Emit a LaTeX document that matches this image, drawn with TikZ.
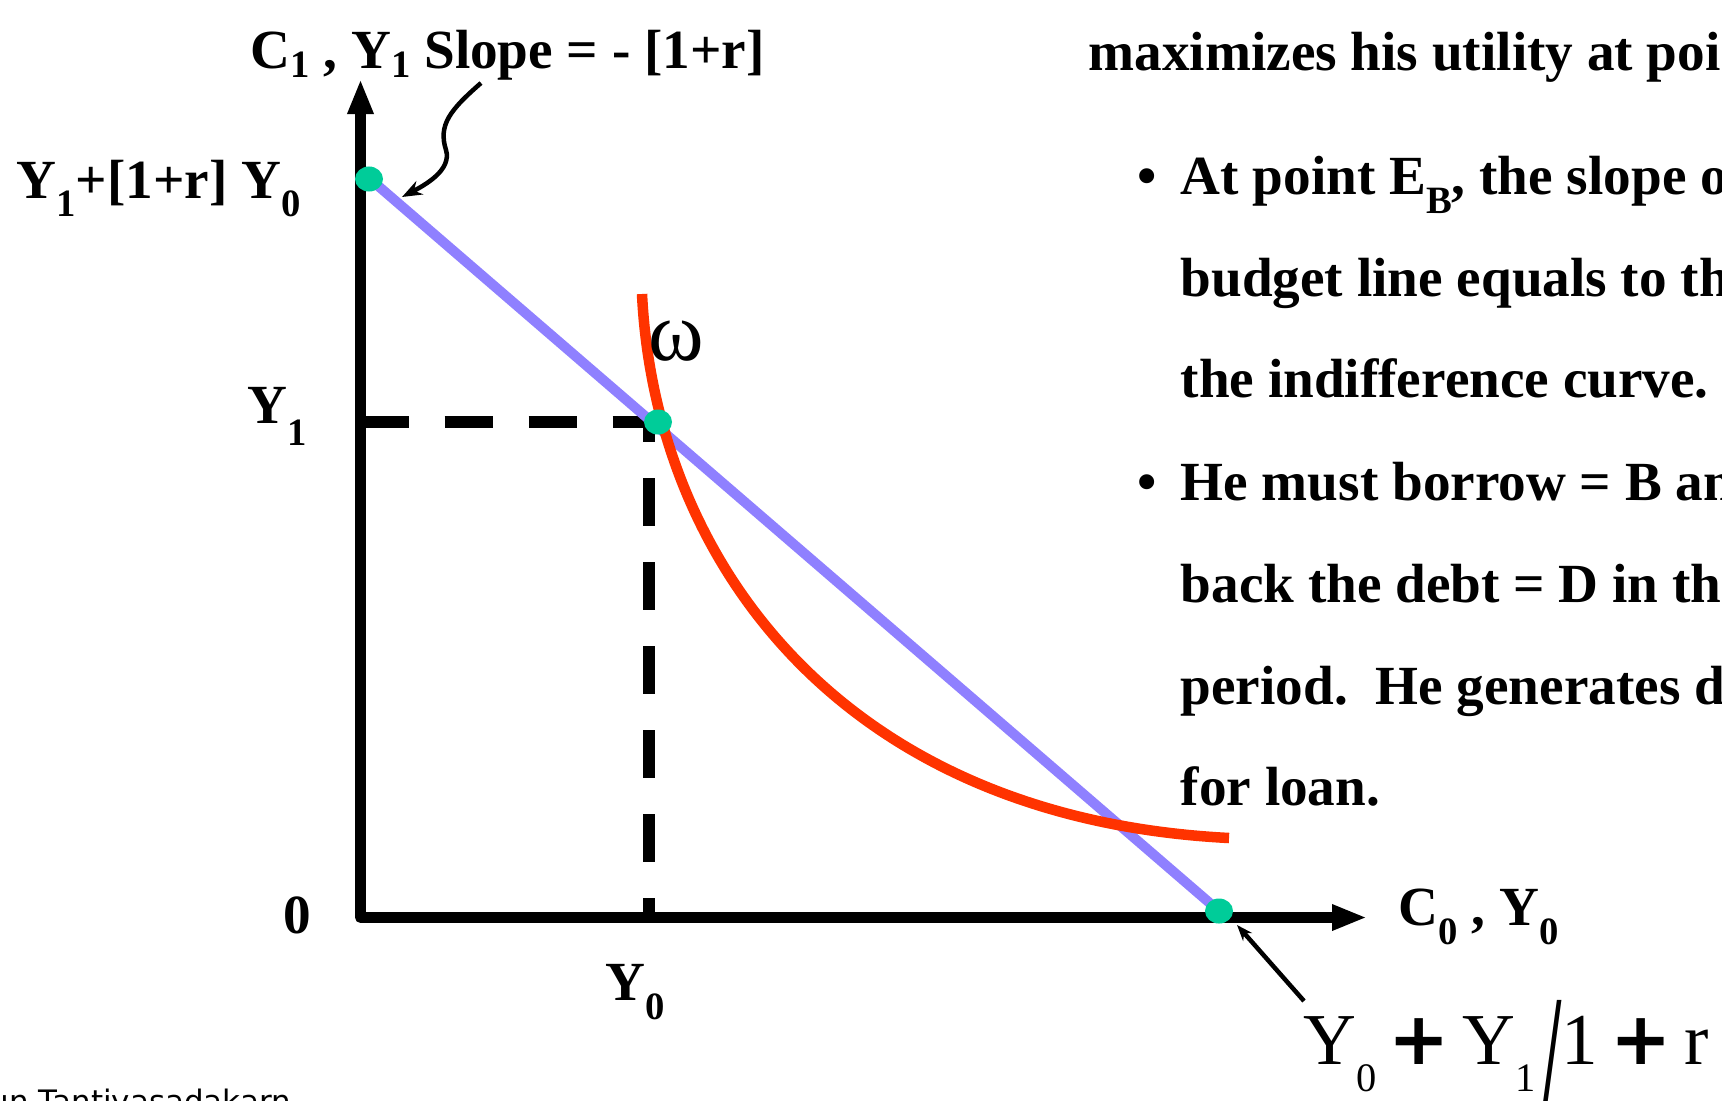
\documentclass[tikz,border=0pt]{standalone}
\usepackage{fontspec}
\setmainfont{Liberation Serif}
\newfontfamily\footfont{DejaVu Sans}
\newfontfamily\plusfont{DejaVu Sans}
\usetikzlibrary{arrows.meta,shapes.geometric}
\definecolor{budB}{RGB}{143,128,255}
\definecolor{icR}{RGB}{255,51,0}
\definecolor{ptG}{RGB}{0,204,153}
\newcommand{\lo}[2][0.36em]{\raisebox{-#1}{\fontsize{11pt}{12pt}\selectfont #2}}
\newcommand{\flo}[1]{\raisebox{-0.27cm}{\fontsize{11.5pt}{12pt}\selectfont #1}}
\newcommand{\bplus}{{\plusfont\bfseries +}}
\tikzset{
  lab/.style={font=\fontsize{15.7pt}{18pt}\selectfont\bfseries, inner sep=0pt, anchor=base west},
  pt/.style={ellipse, fill=ptG, minimum width=0.28cm, minimum height=0.25cm, inner sep=0pt},
  note/.style={line width=0.045cm, -{Stealth[length=0.2cm,width=0.15cm]}},
  guide/.style={line width=0.12cm, dash pattern=on 0.48cm off 0.36cm},
}
\begin{document}
\begin{tikzpicture}[x=0.01cm,y=-0.01cm,>={Triangle[length=0.35cm,width=0.24cm]}]
\useasboundingbox (0,0) rectangle (1722,1100);
% axes
\coordinate (ytop) at (360.5,79);
\coordinate (orig) at (360.5,917.5);
\coordinate (xend) at (1367,917.5);
\draw[<->,line width=0.11cm,line join=round] (ytop) -- (orig) -- (xend);
% points on the budget line
\coordinate (pA) at (369,179);
\coordinate (pW) at (658,422);
\coordinate (pB) at (1219,911);
\coordinate (bstart) at (362,172);
% endowment guides
\draw[guide] (orig |- pW) -- (pW);
\draw[guide,dash phase=0.3cm] (648.5,424) -- (648.5,917.5);
\draw[budB,line width=0.1cm] (bstart) -- (pB);
\draw[icR,line width=0.105cm] (642,294) .. controls (655,560) and (840,818) .. (1229,838);
\node[pt] (Etop) at (pA) {};
\node[pt] (Ew) at (pW) {};
\node[pt] (Ebot) at (pB) {};
% axis labels
\node[lab] (ylab) at (250,68) {C\lo[0.17em]{1} , Y\lo[0.17em]{1} Slope = - [1+r]};
\node[lab] (yint) at (16,198) {Y\lo[0.33em]{1}+[1+r] Y\lo[0.33em]{0}};
\node[lab] (yone) at (247,423) {Y\lo[0.4em]{1}};
\node[lab,anchor=base] (zero) at (297,933) {0};
\node[lab] (yzero) at (605,1000) {Y\lo{0}};
\node[lab] (xlab) at (1398,925) {C\lo{0} , Y\lo{0}};
\node[inner sep=0pt,anchor=base west,font=\fontsize{24pt}{26pt}\selectfont] (omega) at (648,360) {ω};
\node[anchor=base west,inner sep=0pt,font=\fontsize{20.8pt}{24pt}\selectfont] (xint) at (1303,1064)
  {Y\flo{0}\,\bplus\,Y\flo{1}\raisebox{-0.95cm}{\scalebox{1.3}[3.3]{/}}1\,\bplus\,r};
% arrows to the intercepts
\coordinate (slopefrom) at (481,83);
\coordinate (slopetip) at (402,197);
\draw[note] (slopefrom) .. controls (450,110) and (438,125) .. (446,150) .. controls (452,170) and (425,185) .. (slopetip);
\coordinate (xintfrom) at (1304,1001);
\coordinate (xinttip) at (1237,925);
\draw[note,-{Stealth[length=0.16cm,width=0.12cm]}] (xintfrom) -- (xinttip);
% text on the right
\node[lab] (t0) at (1088,70) {maximizes his utility at poi};
\node[lab,anchor=base] (b1) at (1147,194) {•};
\node[lab,anchor=base] (b2) at (1147,500) {•};
\foreach \ty/\tx [count=\i] in {194/{At point E\lo{B}, the slope o},296/{budget line equals to th},
  397/{the indifference curve.},500/{He must borrow = B an},602/{back the debt = D in th},
  704/{period.\ \ He generates d},805/{for loan.}}
  \node[lab] (t\i) at (1180,\ty) {\tx};
\node[anchor=base west,inner sep=0pt,font=\footfont\fontsize{8.8pt}{10pt}\selectfont] (foot) at (-11,1112) {un Tantiyasadakarn};
\end{tikzpicture}
\end{document}
